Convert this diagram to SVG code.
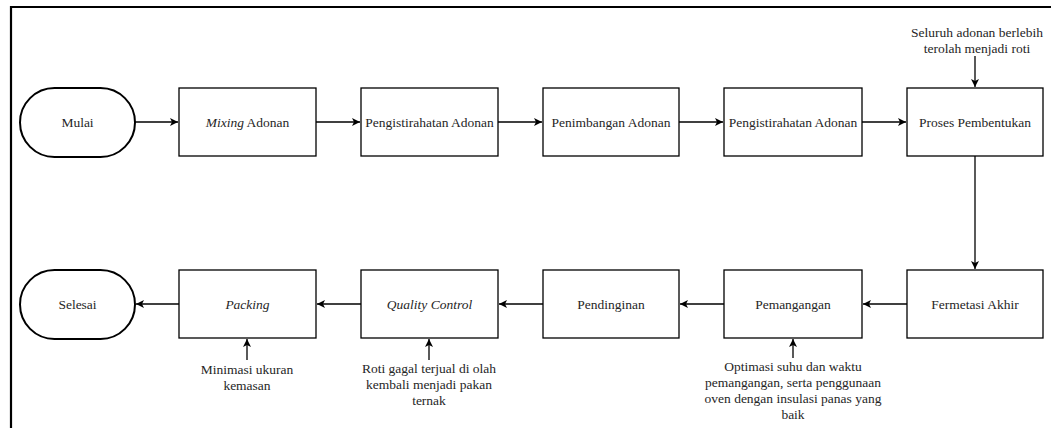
<svg xmlns="http://www.w3.org/2000/svg" width="1051" height="428" viewBox="0 0 1051 428">
<defs>
<marker id="ah" markerWidth="10" markerHeight="10" refX="9" refY="5" orient="auto" markerUnits="userSpaceOnUse">
<path d="M1,1 L9,5 L1,9 L3,5 Z" fill="#000"/>
</marker>
</defs>
<style>
.box{fill:#fff;stroke:#000;stroke-width:1.3}
.term{fill:#fff;stroke:#000;stroke-width:2}
.t{font-family:"Liberation Serif","DejaVu Serif",serif;font-size:13.5px;fill:#262626;text-anchor:middle}
.i{font-style:italic}
.c{fill:none;stroke:#000;stroke-width:1.3;marker-end:url(#ah)}
</style>
<rect width="1051" height="428" fill="#fff"/>
<path d="M11,428 L11,7 L1051,7" fill="none" stroke="#000" stroke-width="2.2"/>

<g id="connectors">
<path class="c" d="M135,122 L178,122"/>
<path class="c" d="M316,122 L360,122"/>
<path class="c" d="M498,122 L542,122"/>
<path class="c" d="M679,122 L723,122"/>
<path class="c" d="M862,122 L906,122"/>
<path class="c" d="M975,156 L975,269"/>
<path class="c" d="M907,304 L863,304"/>
<path class="c" d="M724,304 L680,304"/>
<path class="c" d="M543,304 L499,304"/>
<path class="c" d="M361,304 L317,304"/>
<path class="c" d="M179,304 L136,304"/>
<path class="c" d="M975,56 L975,87"/>
<path class="c" d="M247,360 L247,339"/>
<path class="c" d="M429,360 L429,339"/>
<path class="c" d="M793,358 L793,339"/>
</g>

<g id="mulai"><rect class="term" x="20" y="88" width="115" height="69" rx="34.5" ry="34.5"/><text class="t" x="77.5" y="127">Mulai</text></g>
<g id="mixing"><rect class="box" x="179" y="88" width="137" height="68"/><text class="t" x="247.5" y="127"><tspan class="i">Mixing</tspan> Adonan</text></g>
<g id="istirahat1"><rect class="box" x="361" y="88" width="137" height="68"/><text class="t" x="429.5" y="127">Pengistirahatan Adonan</text></g>
<g id="timbang"><rect class="box" x="543" y="88" width="136" height="68"/><text class="t" x="611" y="127">Penimbangan Adonan</text></g>
<g id="istirahat2"><rect class="box" x="724" y="88" width="138" height="68"/><text class="t" x="793" y="127">Pengistirahatan Adonan</text></g>
<g id="bentuk"><rect class="box" x="907" y="88" width="136" height="68"/><text class="t" x="975" y="127">Proses Pembentukan</text></g>
<g id="fermentasi"><rect class="box" x="907" y="270" width="136" height="68"/><text class="t" x="975" y="309">Fermetasi Akhir</text></g>
<g id="panggang"><rect class="box" x="724" y="270" width="138" height="68"/><text class="t" x="793" y="309">Pemangangan</text></g>
<g id="dingin"><rect class="box" x="543" y="270" width="136" height="68"/><text class="t" x="611" y="309">Pendinginan</text></g>
<g id="qc"><rect class="box" x="361" y="270" width="137" height="68"/><text class="t i" x="429.5" y="309">Quality Control</text></g>
<g id="packing"><rect class="box" x="179" y="270" width="137" height="68"/><text class="t i" x="247.5" y="309">Packing</text></g>
<g id="selesai"><rect class="term" x="20" y="270" width="115" height="69" rx="34.5" ry="34.5"/><text class="t" x="77.5" y="309">Selesai</text></g>

<g id="note-top"><text class="t" x="977" y="37">Seluruh adonan berlebih</text><text class="t" x="977" y="53">terolah menjadi roti</text></g>
<g id="note-packing"><text class="t" x="247" y="374">Minimasi ukuran</text><text class="t" x="247" y="390">kemasan</text></g>
<g id="note-qc"><text class="t" x="429" y="373">Roti gagal terjual di olah</text><text class="t" x="429" y="389">kembali menjadi pakan</text><text class="t" x="429" y="405">ternak</text></g>
<g id="note-panggang"><text class="t" x="793" y="371">Optimasi suhu dan waktu</text><text class="t" x="793" y="387">pemangangan, serta penggunaan</text><text class="t" x="793" y="403">oven dengan insulasi panas yang</text><text class="t" x="793" y="419">baik</text></g>
</svg>
